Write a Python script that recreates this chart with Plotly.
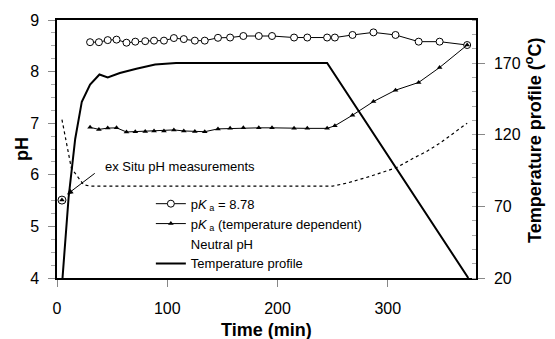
import plotly.graph_objects as go

# ---- data ----
sample_time = [30, 38, 46, 54, 63, 71, 80, 88, 97, 106, 115, 125, 134, 146, 157, 169,
               183, 195, 215, 227, 245, 252, 268, 287, 307, 328, 347, 372]
ph_pka_878 = [8.57, 8.57, 8.61, 8.62, 8.56, 8.58, 8.59, 8.60, 8.60, 8.65, 8.63, 8.60,
              8.60, 8.655, 8.66, 8.69, 8.69, 8.69, 8.66, 8.66, 8.66, 8.66, 8.71, 8.76,
              8.71, 8.58, 8.58, 8.515]
ph_pka_temp = [6.92, 6.88, 6.905, 6.91, 6.83, 6.835, 6.84, 6.85, 6.85, 6.87, 6.85, 6.84,
               6.835, 6.89, 6.90, 6.91, 6.91, 6.91, 6.90, 6.90, 6.90, 6.95, 7.155, 7.42,
               7.64, 7.79, 8.08, 8.515]

exsitu_time = [4.5]
exsitu_ph = [5.51]

neutral_time = [4.5, 8.5, 13, 24, 30, 250, 263, 284, 308, 323, 335, 347, 372]
neutral_ph = [7.07, 6.64, 6.13, 5.81, 5.78, 5.78, 5.84, 5.97, 6.14, 6.32, 6.45, 6.61, 7.0]

temp_time = [5, 10.5, 16.5, 22.5, 30, 38.5, 46, 57, 72, 89, 108, 245, 373]
temp_c = [20, 76, 117, 143, 155, 162, 160, 163, 166, 169, 170, 170, 20]

x_ticks = [0, 100, 200, 300]
ph_ticks = [4, 5, 6, 7, 8, 9]
temp_ticks = [20, 70, 120, 170]

FONT = "Liberation Sans, Arial, sans-serif"

fig = go.Figure()

fig.add_trace(go.Scatter(
    x=sample_time, y=ph_pka_878, mode="lines+markers",
    name="p<i>K</i><sub> a</sub> = 8.78",
    line=dict(color="black", width=1),
    marker=dict(symbol="circle", size=7, color="white", line=dict(color="black", width=1)),
))
fig.add_trace(go.Scatter(
    x=sample_time, y=ph_pka_temp, mode="lines+markers",
    name="p<i>K</i><sub> a</sub> (temperature dependent)",
    line=dict(color="black", width=1),
    marker=dict(symbol="triangle-up", size=5, color="black"),
))
# legend-only entry for neutral pH (no visible sample in the reference)
fig.add_trace(go.Scatter(
    x=[None], y=[None], mode="lines", name="Neutral pH",
    line=dict(color="rgba(0,0,0,0)", width=1),
))
fig.add_trace(go.Scatter(
    x=temp_time, y=temp_c, mode="lines", name="Temperature profile",
    line=dict(color="black", width=2), yaxis="y2",
))
fig.add_trace(go.Scatter(
    x=neutral_time, y=neutral_ph, mode="lines", showlegend=False,
    line=dict(color="black", width=1.2, dash="dot"),
))
fig.add_trace(go.Scatter(
    x=exsitu_time, y=exsitu_ph, mode="markers", showlegend=False,
    marker=dict(symbol="circle", size=8, color="white", line=dict(color="black", width=1)),
))
fig.add_trace(go.Scatter(
    x=exsitu_time, y=exsitu_ph, mode="markers", showlegend=False,
    marker=dict(symbol="triangle-up", size=5, color="black"),
))

fig.update_layout(
    width=555, height=339,
    margin=dict(l=57, r=79, t=17, b=61),
    paper_bgcolor="white", plot_bgcolor="white",
    font=dict(family=FONT, color="black", size=16),
    showlegend=True,
    legend=dict(
        x=0.224, y=0.346, xanchor="left", yanchor="top",
        font=dict(family=FONT, size=13, color="black"),
        bgcolor="rgba(0,0,0,0)", borderwidth=0,
        tracegroupgap=0, itemsizing="trace",
    ),
    xaxis=dict(
        range=[0, 380], tickvals=x_ticks, ticks="outside", ticklen=7,
        tickcolor="#888", showline=True, linecolor="black", linewidth=1.5,
        mirror=True, showgrid=False, zeroline=False,
        ticklabelstandoff=8, tickfont=dict(size=16),
    ),
    yaxis=dict(
        range=[4, 9], tickvals=ph_ticks, ticks="outside", ticklen=7,
        tickcolor="#888", showline=True, linecolor="black", linewidth=1.5,
        showgrid=False, zeroline=False, ticklabelstandoff=6,
        tickfont=dict(size=16),
        minor=dict(dtick=0.25, tick0=4, ticks="outside", ticklen=4, tickcolor="#aaa"),
    ),
    yaxis2=dict(
        range=[20, 200], tickvals=temp_ticks, overlaying="y", side="right",
        ticks="outside", ticklen=7, tickcolor="#888", showline=True,
        linecolor="black", linewidth=1.5, showgrid=False, zeroline=False,
        ticklabelstandoff=6, tickfont=dict(size=16),
        minor=dict(dtick=10, tick0=20, ticks="inside", ticklen=4, tickcolor="#aaa"),
    ),
    annotations=[
        dict(x=9.1, y=5.62, xref="x", yref="y", ax=35.6, ay=6.05, axref="x", ayref="y",
             text="", showarrow=True, arrowhead=2, arrowsize=1.2, arrowwidth=1,
             arrowcolor="black"),
        dict(x=42, y=6.16, xref="x", yref="y", xanchor="left", yanchor="middle",
             text="ex Situ pH measurements", showarrow=False,
             font=dict(family=FONT, size=13, color="black")),
        dict(x=0, y=0.5, xref="paper", yref="paper", xshift=-35, textangle=-90,
             xanchor="center", yanchor="middle", text="<b>pH</b>", showarrow=False,
             font=dict(family=FONT, size=18, color="black")),
        dict(x=0.5, y=0, xref="paper", yref="paper", yshift=-52,
             xanchor="center", yanchor="middle", text="<b>Time (min)</b>", showarrow=False,
             font=dict(family=FONT, size=18, color="black")),
        dict(x=1, y=0.531, xref="paper", yref="paper", xshift=57, textangle=-90,
             xanchor="center", yanchor="middle",
             text="<b>Temperature profile (<sup>o</sup>C)</b>", showarrow=False,
             font=dict(family=FONT, size=18, color="black")),
    ],
)

fig.write_html("out.html")
